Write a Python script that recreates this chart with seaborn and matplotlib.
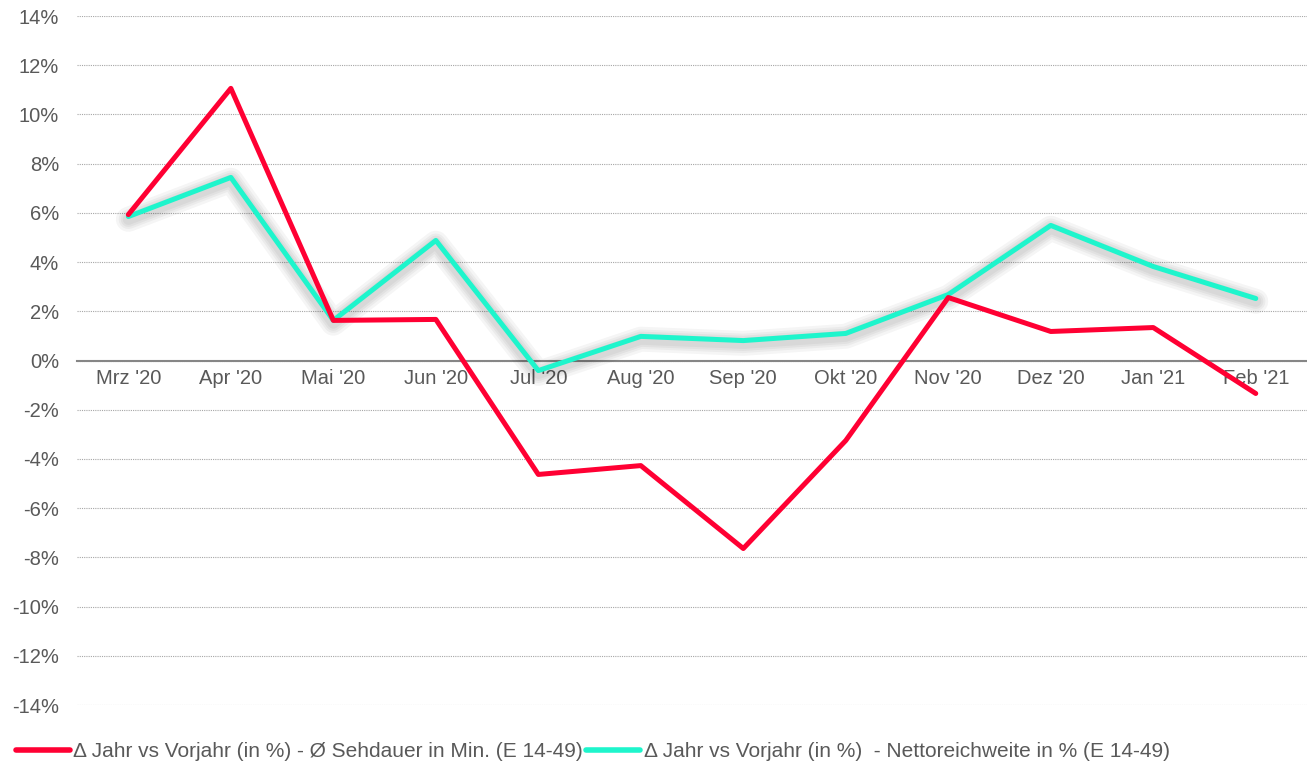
import matplotlib
matplotlib.use("Agg")
import matplotlib.pyplot as plt
import matplotlib.patheffects as pe
from matplotlib.ticker import FuncFormatter, MultipleLocator
import seaborn as sns

sns.set_style("white")
plt.rcParams['font.family'] = ['Liberation Sans', 'DejaVu Sans']

months = ["Mrz '20", "Apr '20", "Mai '20", "Jun '20", "Jul '20", "Aug '20",
          "Sep '20", "Okt '20", "Nov '20", "Dez '20", "Jan '21", "Feb '21"]
sehdauer = [5.93, 11.06, 1.63, 1.67, -4.63, -4.27, -7.64, -3.25, 2.56, 1.18, 1.34, -1.34]
reichweite = [5.85, 7.44, 1.63, 4.88, -0.41, 0.98, 0.81, 1.10, 2.68, 5.49, 3.82, 2.52]

label_red = "\u0394 Jahr vs Vorjahr (in %) - \u00d8 Sehdauer in Min. (E 14-49)"
label_cyan = "\u0394 Jahr vs Vorjahr (in %)  - Nettoreichweite in % (E 14-49)"
red = "#FF0033"
cyan = "#1EF5CC"
grey_txt = "#595959"

fig = plt.figure(figsize=(13.07, 7.66), dpi=100)
ax = fig.add_axes([0.059, 0.0796, 0.941, 0.8995])

# soft shadow under the cyan line
shadow = [pe.Stroke(linewidth=w, foreground="#000000", alpha=0.04, offset=(0, -2))
          for w in (18, 14, 11, 8)]
sns.lineplot(x=months, y=reichweite, sort=False, color=cyan, linewidth=3.6,
             label=label_cyan, ax=ax,
             path_effects=shadow + [pe.Normal()], zorder=3)
sns.lineplot(x=months, y=sehdauer, sort=False, color=red, linewidth=3.6,
             label=label_red, ax=ax, zorder=4)

ax.set_ylim(-14, 14)
ax.set_xlim(-0.5, 11.5)
ax.yaxis.set_major_locator(MultipleLocator(2))
ax.yaxis.set_major_formatter(FuncFormatter(lambda v, p: f"{v:.0f}%"))
ax.grid(axis="y", color="#a6a6a6", linestyle=(0, (1, 1)), linewidth=0.8)
ax.grid(axis="x", visible=False)
ax.set_axisbelow(True)

for s in ["top", "right", "left"]:
    ax.spines[s].set_visible(False)
ax.spines["bottom"].set_position(("data", 0))
ax.spines["bottom"].set_color("#868686")
ax.spines["bottom"].set_linewidth(1.5)
ax.spines["bottom"].set_zorder(2)

ax.tick_params(axis="both", length=0, labelsize=14.5, labelcolor=grey_txt)
ax.tick_params(axis="y", pad=13)
ax.tick_params(axis="x", pad=6)
ax.set_xlabel("")
ax.set_ylabel("")

handles, labels = ax.get_legend_handles_labels()
ax.get_legend().remove()
order = [1, 0]
fig.legend([handles[i] for i in order], [labels[i] for i in order],
           loc="lower left", bbox_to_anchor=(-0.002, -0.018), ncol=2, frameon=False,
           fontsize=15, labelcolor=grey_txt, handlelength=2.6, handletextpad=0.15,
           columnspacing=0.15)
for h in fig.legends[0].get_lines():
    h.set_path_effects([])
    h.set_linewidth(4)

fig.savefig("out.png", dpi=100)
